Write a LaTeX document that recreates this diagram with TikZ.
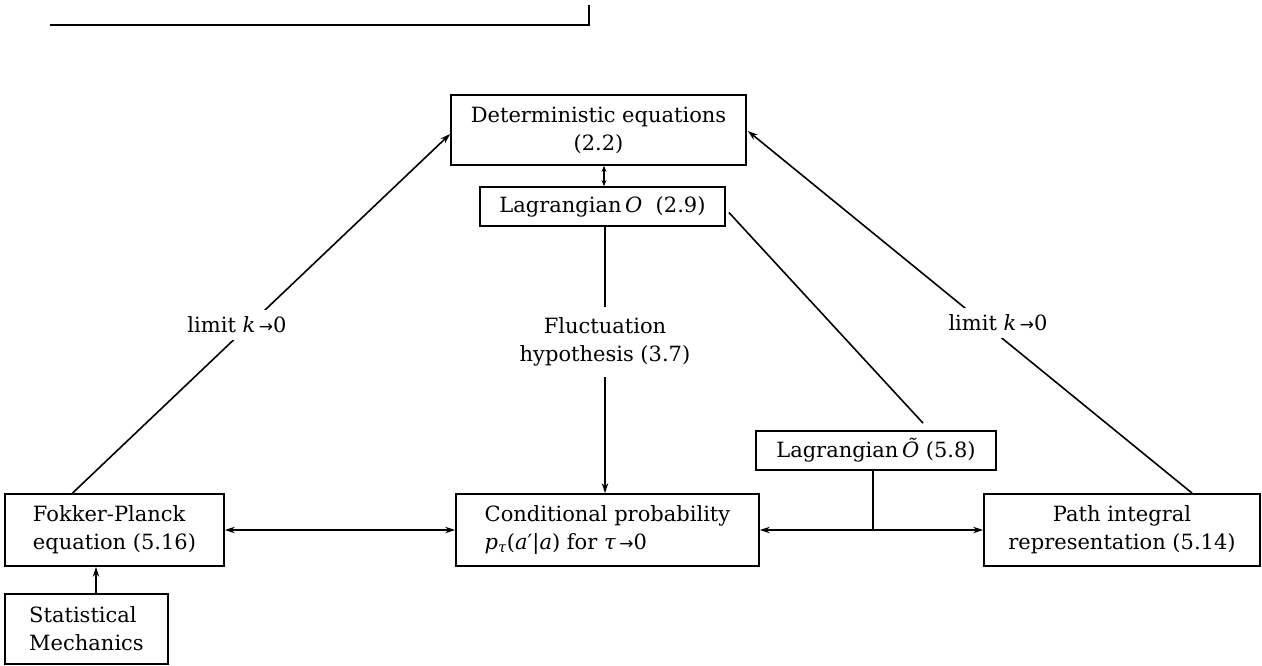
\documentclass[tikz,border=0pt]{standalone}
\usepackage{fontspec}
\setmainfont{DejaVu Serif}
\newfontfamily\arrowfont{DejaVu Sans}
\newcommand{\tendsto}{{\arrowfont\fontsize{17}{28}\selectfont →}}
\usetikzlibrary{arrows.meta}
\begin{document}
\begin{tikzpicture}[x=1pt,y=-1pt,
  txt/.style={font=\fontsize{21}{28}\selectfont, align=center, inner sep=0pt},
  box/.style={txt, draw, line width=1.8pt},
  conn/.style={line width=1.6pt},
  tipa/.style={-{Stealth[length=10pt,width=6.5pt]}},
  tipb/.style={{Stealth[length=10pt,width=6.5pt]}-{Stealth[length=10pt,width=6.5pt]}},
  tipc/.style={{Stealth[length=6pt,width=5pt]}-{Stealth[length=6pt,width=5pt]}},
  lbl/.style={txt, fill=white, inner xsep=2pt, inner ysep=7pt}]
\useasboundingbox (0,0) rectangle (1262,666);
% stray rule at top
\draw[line width=2.4pt] (50,25) -- (589,25) -- (589,5);
% boxes
\node[box, minimum width=295pt, minimum height=70pt] (det) at (598.5,130) {Deterministic equations\\(2.2)};
\node[box, minimum width=245pt, minimum height=39pt] (lagO) at (602.5,206.5) {Lagrangian\,\textit{O}\ \ (2.9)};
\node[txt, inner ysep=10.5pt] (fluct) at (605,342) {Fluctuation\\hypothesis (3.7)};
\node[box, align=left, minimum width=303pt, minimum height=72pt] (cond) at (607.5,530) {Conditional probability\\\textit{p}\textsubscript{\textit{τ}}(\textit{a}′|\textit{a}) for \textit{τ}\,\tendsto0};
\node[box, align=left, minimum width=219pt, minimum height=72pt] (fok) at (114.5,530) {Fokker-Planck\\equation (5.16)};
\node[box, align=left, minimum width=163pt, minimum height=70pt] (stat) at (86.5,629) {Statistical\\Mechanics};
\node[box, minimum width=240pt, minimum height=39pt] (lagOt) at (876,450.5) {Lagrangian\,\textit{Õ} (5.8)};
\node[box, minimum width=276pt, minimum height=72pt] (path) at (1122,530) {Path integral\\representation (5.14)};
\coordinate (xa) at (604,0);
\coordinate (xs) at (96,0);
% connectors
\draw[conn, tipc] (lagO.north -| xa) -- (det.south -| xa);
\draw[conn] (lagO.south -| fluct) -- (fluct.north);
\draw[conn, tipa] (fluct.south) -- (cond.north -| fluct);
\draw[conn, tipb] (fok.east) -- (cond.west);
\draw[conn, tipb] (cond.east) -- (path.west);
\draw[conn] ([shift={(-3,0)}]lagOt.south) -- ([shift={(-3,0)}]lagOt.south |- cond.east);
\draw[conn, tipa] (stat.north -| xs) -- (fok.south -| xs);
\draw[conn] ([shift={(3,6)}]lagO.east) -- ([shift={(47,-7)}]lagOt.north);
\draw[conn, tipa] ([shift={(-42,0)}]fok.north) -- ([shift={(0,4)}]det.west);
\draw[conn, tipa] ([shift={(70,0)}]path.north) -- ([shift={(1,1)}]det.east);
\node[lbl] (limL) at (237,325) {limit \textit{k}\,\tendsto0};
\node[lbl] (limR) at (998,323) {limit \textit{k}\,\tendsto0};
\end{tikzpicture}
\end{document}
